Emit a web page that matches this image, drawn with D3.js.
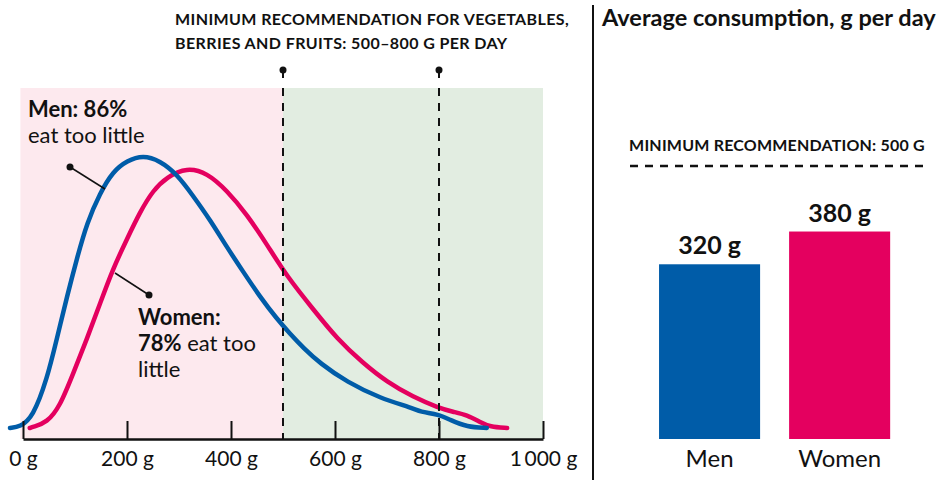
<!DOCTYPE html>
<html lang="en">
<head>
<meta charset="utf-8">
<title>Vegetables, berries and fruits</title>
<script src="https://d3js.org/d3.v7.min.js"></script>
<style>
  body { margin: 0; background: #fff; }
  text { font-family: Lato, "Open Sans", sans-serif; fill: #111; }
</style>
</head>
<body>
<script>
// ---- data ----
// distribution of daily intake, grams vs relative density (peak of men = 100)
var menGrams   = [-25, -6, 19, 46, 65, 85, 104, 123, 148, 173, 200, 231, 263, 296, 327, 360, 392, 423, 456, 488, 513, 540, 571, 623, 687, 750, 763, 800, 821, 854, 892];
var menDensity = [0, 0.4, 4, 18, 33, 49, 63, 76, 87, 95, 99, 101, 99, 94, 86, 77, 67, 58, 48.5, 40.5, 35, 29.5, 24, 17, 11, 7.4, 6, 5, 3, 0.4, 0];
var womenGrams   = [13, 19, 46, 71, 96, 123, 148, 173, 200, 225, 250, 277, 315, 354, 392, 431, 469, 508, 558, 604, 654, 700, 750, 800, 827, 854, 879, 898, 931];
var womenDensity = [0, 0.4, 2, 8, 20, 33, 46, 59, 70, 80, 88, 93, 96.5, 94.5, 88, 79, 68, 56, 44, 33, 24, 17, 11.5, 7.4, 6, 4.8, 2.2, 0.4, 0];

var xTicks = [0, 200, 400, 600, 800, 1000];
var recRange = [500, 800];

var barGroups = ["Men", "Women"];
var barValues = [320, 380];
var recMin = 500;

var blue = "#005ca8", pink = "#e4005f";

var w = 945, h = 480;
var svg = d3.select("body").append("svg").attr("width", w).attr("height", h);

// ---- left panel: distribution ----
var x = d3.scaleLinear().domain([0, 1000]).range([23, 543]);
var y = d3.scaleLinear().domain([0, 100]).range([428, 158]);
var plotTop = 88, axisY = 439;

// background zones
svg.append("rect").attr("x", x(-5)).attr("y", plotTop)
  .attr("width", x(recRange[0]) - x(-5)).attr("height", axisY - plotTop).attr("fill", "#fde9ee");
svg.append("rect").attr("x", x(recRange[0])).attr("y", plotTop)
  .attr("width", x(1000) - x(recRange[0])).attr("height", axisY - plotTop).attr("fill", "#e2ede1");

var line = d3.line().x(d => x(d[0])).y(d => y(d[1])).curve(d3.curveBasis);

var menPts = menGrams.map((g, i) => [g, menDensity[i]]);
var womenPts = womenGrams.map((g, i) => [g, womenDensity[i]]);

svg.append("path").datum(womenPts).attr("d", line)
  .attr("fill", "none").attr("stroke", pink).attr("stroke-width", 4.5).attr("stroke-linecap", "round");
svg.append("path").datum(menPts).attr("d", line)
  .attr("fill", "none").attr("stroke", blue).attr("stroke-width", 4.5).attr("stroke-linecap", "round");

// recommendation markers
recRange.forEach(function(v) {
  svg.append("line").attr("x1", x(v)).attr("x2", x(v)).attr("y1", 70).attr("y2", 78)
    .attr("stroke", "#111").attr("stroke-width", 2);
  svg.append("line").attr("x1", x(v)).attr("x2", x(v)).attr("y1", plotTop).attr("y2", axisY)
    .attr("stroke", "#111").attr("stroke-width", 2).attr("stroke-dasharray", "8,7");
  svg.append("circle").attr("cx", x(v)).attr("cy", 70).attr("r", 3.5).attr("fill", "#111");
});

// axis
var xAxis = d3.axisBottom(x).tickValues(xTicks).tickSizeInner(-18).tickSizeOuter(0).tickPadding(12)
  .tickFormat(d => d3.format(",")(d).replace(",", "\u2009") + " g");
var ax = svg.append("g").attr("transform", "translate(0," + axisY + ")").call(xAxis);
ax.select(".domain").attr("stroke", "#111").attr("stroke-width", 2.5);
ax.selectAll(".tick line").attr("stroke", "#111").attr("stroke-width", 2);
ax.selectAll(".tick text").attr("font-size", 21).attr("font-family", "Lato, sans-serif").attr("fill", "#111");

// top note
var note = svg.append("text").attr("font-size", 16).attr("font-weight", "bold").attr("letter-spacing", 0.4);
note.append("tspan").attr("x", 175).attr("y", 25).text("MINIMUM RECOMMENDATION FOR VEGETABLES,");
note.append("tspan").attr("x", 175).attr("y", 49).text("BERRIES AND FRUITS: 500\u2013800 G PER DAY");

// series annotations
var men = svg.append("text").attr("font-size", 22);
men.append("tspan").attr("x", 28).attr("y", 117).attr("font-weight", "bold").text("Men: 86%");
men.append("tspan").attr("x", 28).attr("y", 143).text("eat too little");
svg.append("line").attr("x1", 70).attr("y1", 167).attr("x2", 105).attr("y2", 189).attr("stroke", "#111").attr("stroke-width", 1.5);
svg.append("circle").attr("cx", 70).attr("cy", 167).attr("r", 3.5).attr("fill", "#111");

var women = svg.append("text").attr("font-size", 22);
women.append("tspan").attr("x", 138).attr("y", 325).attr("font-weight", "bold").text("Women:");
women.append("tspan").attr("x", 138).attr("y", 351).attr("font-weight", "bold").text("78%");
women.append("tspan").text(" eat too");
women.append("tspan").attr("x", 138).attr("y", 377).text("little");
svg.append("line").attr("x1", 149).attr("y1", 295).attr("x2", 115).attr("y2", 273).attr("stroke", "#111").attr("stroke-width", 1.5);
svg.append("circle").attr("cx", 149).attr("cy", 295).attr("r", 3.5).attr("fill", "#111");

// separator
svg.append("line").attr("x1", 593).attr("x2", 593).attr("y1", 5).attr("y2", 480).attr("stroke", "#111").attr("stroke-width", 2);

// ---- right panel: averages ----
svg.append("text").attr("x", 602).attr("y", 26).attr("font-size", 23.5).attr("font-weight", "bold")
  .text("Average consumption, g per day");

var bx = d3.scaleBand().domain(barGroups).range([644.6, 904.6]).paddingInner(0.223).paddingOuter(0.111);
var by = d3.scaleLinear().domain([0, recMin]).range([439, 166]);

svg.append("text").attr("x", 777).attr("y", 151).attr("text-anchor", "middle")
  .attr("font-size", 16).attr("font-weight", "bold").attr("letter-spacing", 0.2).text("MINIMUM RECOMMENDATION: 500 G");
svg.append("line").attr("x1", 630).attr("x2", 924).attr("y1", by(recMin)).attr("y2", by(recMin))
  .attr("stroke", "#111").attr("stroke-width", 2.5).attr("stroke-dasharray", "8,7");

svg.selectAll(".bar").data(barGroups).enter().append("rect").attr("class", "bar")
  .attr("x", d => bx(d)).attr("width", bx.bandwidth())
  .attr("y", (d, i) => by(barValues[i])).attr("height", (d, i) => by(0) - by(barValues[i]))
  .attr("fill", (d, i) => i == 0 ? blue : pink);

svg.selectAll(".val").data(barGroups).enter().append("text").attr("class", "val")
  .attr("x", d => bx(d) + bx.bandwidth() / 2).attr("y", (d, i) => by(barValues[i]) - 10)
  .attr("text-anchor", "middle").attr("font-size", 25).attr("font-weight", "bold")
  .text((d, i) => barValues[i] + " g");

svg.selectAll(".cat").data(barGroups).enter().append("text").attr("class", "cat")
  .attr("x", d => bx(d) + bx.bandwidth() / 2).attr("y", 467)
  .attr("text-anchor", "middle").attr("font-size", 24).text(d => d);
</script>
</body>
</html>
